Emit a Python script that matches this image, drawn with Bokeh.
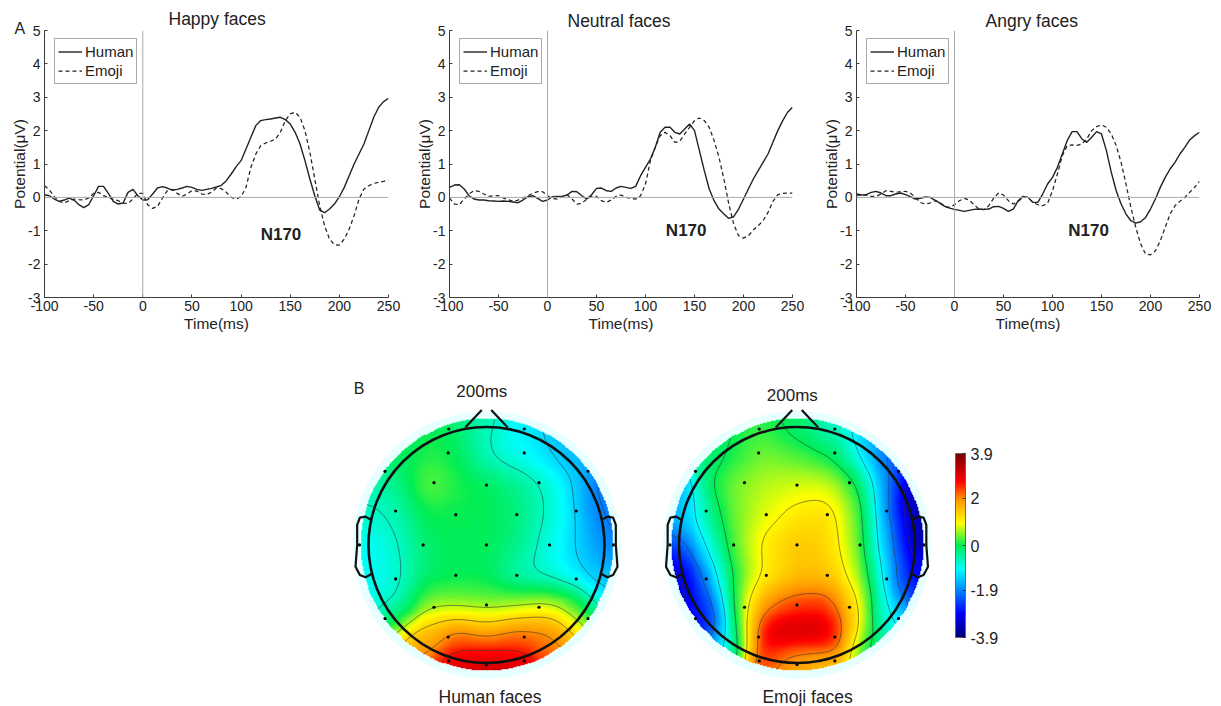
import numpy as np
from bokeh.embed import file_html
from bokeh.resources import INLINE
from bokeh.plotting import figure
from bokeh.layouts import row, column
from bokeh.models import (ColorBar, FixedTicker, Label, Legend, LegendItem,
                          LinearColorMapper, Range1d, Span, Spacer, Title)

# ------------------------------------------------------------------ data
times_ms = list(range(-100, 255, 5))
x_ticks = [-100, -50, 0, 50, 100, 150, 200, 250]
y_ticks = [-3, -2, -1, 0, 1, 2, 3, 4, 5]

happy_human = [0.08,0.05,-0.05,-0.12,-0.08,-0.02,-0.08,-0.22,-0.31,-0.22,0.05,0.33,0.33,0.12,-0.12,-0.2,-0.17,0.15,0.24,0.05,-0.08,-0.07,0.1,0.28,0.32,0.28,0.22,0.24,0.28,0.33,0.3,0.24,0.21,0.24,0.27,0.31,0.36,0.5,0.7,0.92,1.1,1.45,1.8,2.15,2.3,2.33,2.35,2.38,2.4,2.33,2.2,1.95,1.6,1.1,0.55,0.05,-0.38,-0.46,-0.35,-0.2,0.02,0.3,0.65,1.0,1.3,1.6,2.0,2.4,2.7,2.87,2.97]
happy_emoji = [0.35,0.22,0.02,-0.12,-0.17,-0.1,-0.05,-0.07,-0.08,-0.02,0.12,0.15,0.05,0.0,-0.06,-0.1,-0.17,-0.18,-0.05,0.12,0.12,-0.22,-0.33,-0.27,-0.02,0.2,0.24,0.12,0.03,0.1,0.2,0.19,0.1,0.08,0.16,0.28,0.26,0.15,0.0,-0.05,0.02,0.3,0.9,1.3,1.55,1.63,1.68,1.75,1.95,2.3,2.5,2.55,2.4,2.0,1.35,0.55,-0.25,-0.85,-1.25,-1.42,-1.43,-1.25,-0.95,-0.55,-0.05,0.25,0.35,0.42,0.45,0.48,0.52]
neutral_human = [0.3,0.37,0.38,0.25,0.05,-0.05,-0.08,-0.08,-0.1,-0.11,-0.12,-0.11,-0.12,-0.14,-0.16,-0.08,0.02,0.05,-0.03,-0.12,-0.08,0.02,0.03,0.03,0.07,0.18,0.17,0.05,-0.05,0.08,0.27,0.28,0.2,0.18,0.28,0.33,0.3,0.27,0.33,0.65,0.9,1.15,1.5,1.95,2.1,2.1,1.95,1.9,2.05,2.2,2.0,1.4,0.8,0.25,-0.1,-0.35,-0.5,-0.63,-0.58,-0.35,-0.05,0.25,0.55,0.8,1.05,1.3,1.65,2.0,2.3,2.55,2.7]
neutral_emoji = [-0.02,-0.2,-0.22,-0.05,0.1,0.2,0.18,0.1,0.03,0.05,0.05,-0.02,-0.07,-0.12,-0.08,-0.02,0.05,0.12,0.17,0.17,0.05,-0.03,-0.05,0.02,0.08,-0.05,-0.2,-0.18,-0.05,0.03,0.03,-0.1,-0.15,-0.08,0.03,0.07,0.0,-0.03,-0.05,0.05,0.4,1.1,1.5,1.85,1.95,1.85,1.65,1.68,1.9,2.1,2.3,2.38,2.3,2.1,1.7,1.2,0.55,-0.2,-0.8,-1.15,-1.22,-1.15,-0.98,-0.85,-0.7,-0.45,-0.12,0.08,0.12,0.13,0.13]
angry_human = [0.1,0.07,0.08,0.15,0.18,0.13,0.05,0.05,0.1,0.13,0.08,0.02,-0.05,-0.03,0.01,0.0,-0.08,-0.17,-0.27,-0.32,-0.36,-0.39,-0.42,-0.39,-0.36,-0.35,-0.36,-0.35,-0.28,-0.27,-0.33,-0.42,-0.35,-0.1,0.03,0.0,-0.15,-0.15,0.1,0.4,0.6,0.9,1.3,1.7,1.97,1.97,1.75,1.65,1.8,1.97,1.9,1.4,0.75,0.2,-0.2,-0.5,-0.7,-0.77,-0.73,-0.6,-0.35,-0.05,0.3,0.6,0.85,1.05,1.3,1.5,1.72,1.85,1.95]
angry_emoji = [0.07,0.07,0.07,0.03,0.03,0.1,0.2,0.18,0.15,0.17,0.18,0.13,0.0,-0.15,-0.2,-0.17,-0.1,-0.15,-0.27,-0.3,-0.22,-0.1,-0.03,-0.08,-0.22,-0.35,-0.37,-0.25,-0.02,0.13,0.07,-0.1,-0.2,-0.12,0.0,0.0,-0.15,-0.22,-0.25,-0.18,0.2,0.7,1.25,1.55,1.57,1.56,1.6,1.75,2.0,2.12,2.17,2.1,1.9,1.55,1.05,0.4,-0.3,-0.9,-1.4,-1.7,-1.72,-1.6,-1.3,-0.9,-0.5,-0.25,-0.12,0.0,0.15,0.3,0.48]

# electrode positions in head radii
elec_x = [-0.32,0.32,-0.325,0.32,-0.86,0.86,-0.445,0.0,0.445,-0.77,-0.26,0.257,0.76,-1.076,-0.537,0.0,0.534,1.076,-0.77,-0.26,0.257,0.76,-0.86,-0.445,0.0,0.445,0.86,-0.325,0.32,-0.32,0.0,0.32]
elec_y = [0.983,0.983,0.78,0.78,0.624,0.624,0.528,0.508,0.528,0.288,0.257,0.257,0.288,0.0,0.0,0.0,0.0,0.0,-0.288,-0.257,-0.257,-0.288,-0.624,-0.528,-0.508,-0.528,-0.624,-0.78,-0.78,-0.983,-1.014,-0.983]

# potentials on a coarse lattice (head radii); None = outside the head
lattice_x = [-1.0,-0.75,-0.5,-0.25,0.0,0.25,0.5,0.75,1.0]
lattice_y = [1.0,0.75,0.5,0.25,0.0,-0.25,-0.5,-0.75,-1.0]
N = None
human_rows = [
    [N,N,N,-0.1,-0.7,-1.2,N,N,N],
    [N,-0.1,0.2,0.0,-0.65,-0.9,-1.15,-1.6,N],
    [-0.6,-0.3,0.45,0.1,0.0,-0.3,-0.65,-1.3,-2.3],
    [-0.9,-0.55,0.05,0.0,0.0,-0.2,-0.65,-1.2,-2.1],
    [-1.0,-0.7,-0.1,0.0,0.0,-0.25,-0.8,-1.3,-1.9],
    [-1.0,-0.75,-0.15,-0.05,-0.05,-0.6,-0.85,-1.2,-1.7],
    [-1.0,-0.7,0.55,0.45,0.4,0.5,0.75,0.4,-1.2],
    [N,0.75,1.5,2.2,1.7,2.2,2.1,1.3,N],
    [N,N,N,3.0,2.9,3.0,N,N,N],
]
emoji_rows = [
    [N,N,N,0.15,-0.2,-0.8,N,N,N],
    [N,-0.3,0.25,0.45,0.3,0.05,-0.6,-2.4,N],
    [-1.8,0.1,0.5,0.7,0.8,0.85,0.2,-1.7,-3.6],
    [-1.4,-0.3,0.5,0.85,1.15,1.3,0.5,-1.6,-3.5],
    [-2.5,-0.8,0.5,1.2,1.5,1.35,0.55,-1.5,-3.6],
    [-3.2,-1.4,0.3,1.1,1.5,1.5,0.75,-1.1,-3.0],
    [-3.3,-2.2,0.5,2.0,2.4,2.5,1.2,-0.8,-2.4],
    [N,-3.0,0.4,3.3,3.3,3.3,1.6,-0.6,N],
    [N,N,N,2.4,1.9,1.4,N,N,N],
]
rim_x = [1.02,0.63,0.0,-0.63,-1.02,-1.02,-0.63,0.0,0.63,1.02,0.86,-0.86]
rim_y = [0.33,0.87,1.07,0.87,0.33,-0.33,-0.87,-1.07,-0.87,-0.33,-0.64,-0.64]
human_rim = [-1.9,-1.5,-0.4,-0.1,-0.5,-0.9,2.3,3.3,2.3,-1.3,0.2,-0.4]
emoji_rim = [-3.6,-1.6,0.0,-0.1,-1.6,-3.2,-0.7,1.5,-0.5,-3.0,-1.2,-3.0]

human_levels = [-1.95, -1.3, -0.65, 0.65, 1.3, 1.95, 2.6]
emoji_levels = [-3.0, -2.0, -1.0, 0.0, 1.0, 2.1]
cbar_ticks = [-3.9, -1.9, 0, 2, 3.9]

nose_x = [-0.18, -0.04]
nose_y = [0.995, 1.145]
ear_x = [-0.975,-1.025,-1.073,-1.096,-1.096,-1.11,-1.073,-1.025,-0.975]
ear_y = [0.212,0.24,0.232,0.17,0.0,-0.184,-0.254,-0.274,-0.246]

# ------------------------------------------------------------------ style
FONT = "Liberation Sans"
INK = "#222222"
AXIS = "#3c3c3c"
anchors = [(0.0,(0,0,120)),(0.13,(0,0,255)),(0.37,(0,255,255)),(0.5,(0,238,85)),
           (0.62,(255,255,0)),(0.75,(255,150,0)),(0.85,(255,0,0)),(1.0,(120,0,0))]
pos = np.linspace(0, 1, 256)
chan = [np.interp(pos, [a[0] for a in anchors], [a[1][i] for a in anchors]) for i in range(3)]
jet = ["#%02x%02x%02x" % (int(r), int(g), int(b)) for r, g, b in zip(*chan)]
mapper = LinearColorMapper(palette=jet, low=-3.9, high=3.9, nan_color="rgba(0,0,0,0)")


def erp(title, human, emoji, width, left, right, n_x, n_y, title_off, letter=None):
    p = figure(width=width, height=340, output_backend="svg", toolbar_location=None,
               x_range=Range1d(-100, 250), y_range=Range1d(-3, 5),
               min_border_left=left, min_border_right=right, min_border_top=30, min_border_bottom=43)
    p.grid.visible = False
    p.outline_line_color = None
    for ax in (p.xaxis[0], p.yaxis[0]):
        ax.axis_line_color = AXIS
        ax.major_tick_line_color = AXIS
        ax.minor_tick_line_color = None
        ax.major_tick_in = 3
        ax.major_tick_out = 0
        ax.major_label_text_font = FONT
        ax.major_label_text_font_size = "14px"
        ax.major_label_text_color = INK
        ax.axis_label_text_font = FONT
        ax.axis_label_text_font_size = "15.5px"
        ax.axis_label_text_font_style = "normal"
        ax.axis_label_text_color = INK
    p.xaxis[0].ticker = FixedTicker(ticks=x_ticks)
    p.yaxis[0].ticker = FixedTicker(ticks=y_ticks)
    p.xaxis[0].major_label_overrides = {t: str(t) for t in x_ticks}
    p.yaxis[0].major_label_overrides = {t: str(t) for t in y_ticks}
    p.xaxis[0].axis_label = "Time(ms)"
    p.yaxis[0].axis_label = "Potential(μV)"
    p.xaxis[0].major_label_standoff = 3
    p.xaxis[0].axis_label_standoff = 1
    p.yaxis[0].major_label_standoff = 4
    p.yaxis[0].axis_label_standoff = -3
    p.add_layout(Span(location=0, dimension="width", line_color="#aaaaaa", line_width=1))
    p.add_layout(Span(location=0, dimension="height", line_color="#aaaaaa", line_width=1))
    r1 = p.line(times_ms, human, line_color=INK, line_width=1.4)
    r2 = p.line(times_ms, emoji, line_color=INK, line_width=1.25, line_dash="4 3")
    leg = Legend(items=[LegendItem(label="Human", renderers=[r1]), LegendItem(label="Emoji", renderers=[r2])],
                 location=(10, 213), orientation="vertical", margin=0, padding=3, spacing=0,
                 glyph_width=24, glyph_height=19, label_height=19, label_standoff=3,
                 label_text_font=FONT, label_text_font_size="15px", label_text_color=INK,
                 border_line_color="#555555", border_line_width=1, background_fill_alpha=1)
    p.add_layout(leg)
    p.add_layout(Label(x=n_x, y=n_y, text="N170", text_font=FONT, text_font_size="17px",
                       text_font_style="bold", text_color=INK, text_align="center", text_baseline="middle"))
    if letter:
        p.add_layout(Title(text=letter, align="left", offset=-30, standoff=-12, text_font=FONT,
                           text_font_size="16px", text_font_style="normal", text_color=INK), "above")
    p.add_layout(Title(text=title, align="left", offset=title_off, standoff=-11 if letter else 0, text_font=FONT,
                       text_font_size="17.5px", text_font_style="normal", text_color=INK), "above")
    return p


def surface(rows, rim, gx, gy, sigma=0.135):
    px, py, pv = list(rim_x), list(rim_y), list(rim)
    for ly, r in zip(lattice_y, rows):
        for lx, v in zip(lattice_x, r):
            if v is not None:
                px.append(lx); py.append(ly); pv.append(v)
    px, py, pv = np.array(px), np.array(py), np.array(pv, float)
    X, Y = np.meshgrid(gx, gy)
    w = np.exp(-((X[..., None] - px)**2 + (Y[..., None] - py)**2) / (2 * sigma**2))
    return X, Y, (w @ pv) / w.sum(axis=-1)


def head(rows, rim, levels, width, x_start, x_end, caption, cap_x, top_x, top_y, letter=None):
    p = figure(width=width, height=366, output_backend="svg", toolbar_location=None,
               x_range=Range1d(x_start, x_end), y_range=Range1d(-1.369, 1.733),
               x_axis_type=None, y_axis_type=None, min_border=0)
    p.grid.visible = False
    p.outline_line_color = None
    gx = np.linspace(-1.07, 1.07, 268)
    gy = np.linspace(-1.07, 1.07, 268)
    X, Y, Z = surface(rows, rim, gx, gy)
    Z = np.clip(Z, -3.9, 3.9)
    Z = np.where(np.hypot(X, Y) <= 1.07, Z, np.nan)
    p.circle([0], [0], radius=1.135, fill_color="#e8ffff", line_color=None)
    p.image(image=[Z], x=-1.07, y=-1.07, dw=2.14, dh=2.14, color_mapper=mapper)
    p.contour(gx, gy, Z, levels=levels, line_color="#333333", line_width=0.7, line_alpha=0.85, fill_color=None)
    p.scatter(elec_x, elec_y, size=3.2, marker="circle", fill_color="black", line_color=None)
    p.circle([0], [0], radius=1.0, fill_color=None, line_color="#111111", line_width=2.6)
    p.line(nose_x, nose_y, line_color="#111111", line_width=2.2)
    p.line([-v for v in nose_x], nose_y, line_color="#111111", line_width=2.2)
    p.line(ear_x, ear_y, line_color="#111111", line_width=2.2)
    p.line([-v for v in ear_x], ear_y, line_color="#111111", line_width=2.2)
    p.add_layout(Label(x=top_x, y=top_y, text="200ms", text_font=FONT, text_font_size="17px",
                       text_color=INK, text_align="center", text_baseline="middle"))
    p.add_layout(Label(x=cap_x, y=-1.29, text=caption, text_font=FONT, text_font_size="17.5px",
                       text_color=INK, text_align="center", text_baseline="middle"))
    if letter:
        p.add_layout(Label(x=-1.08, y=1.33, text=letter, text_font=FONT, text_font_size="16px",
                           text_color=INK, text_align="center", text_baseline="middle"))
    return p


p1 = erp("Happy faces", happy_human, happy_emoji, 405, 44, 17, 140.6, -1.12, 124, "A")
p2 = erp("Neutral faces", neutral_human, neutral_emoji, 406, 44, 19, 141.5, -0.98, 118)
p3 = erp("Angry faces", angry_human, angry_emoji, 409, 45, 21, 136.8, -0.98, 129)

h1 = head(human_rows, human_rim, human_levels, 290, -146/118, 144/118, "Human faces", 0.03, -0.04, 1.30, "B")
h2 = head(emoji_rows, emoji_rim, emoji_levels, 290, -146.5/118, 143.5/118, "Emoji faces", 0.09, -0.04, 1.27)

cb = figure(width=75, height=366, output_backend="svg", toolbar_location=None,
            x_range=Range1d(0, 1), y_range=Range1d(0, 1), x_axis_type=None, y_axis_type=None, min_border=0)
cb.grid.visible = False
cb.outline_line_color = None
bar = ColorBar(color_mapper=mapper, ticker=FixedTicker(ticks=cbar_ticks), width=10, height=184,
               location=(15, 69), padding=0, margin=0, bar_line_color="#666666",
               major_tick_line_color="#333333", major_tick_in=3, major_tick_out=0, minor_tick_line_color=None,
               major_label_overrides={t: str(t) for t in cbar_ticks},
               label_standoff=5, major_label_text_font=FONT, major_label_text_font_size="16px",
               major_label_text_color=INK, background_fill_alpha=0, border_line_color=None)
cb.add_layout(bar)

root = column(row(p1, p2, p3),
              row(Spacer(width=340, height=366), h1, Spacer(width=20, height=366), h2, cb))
open("out.html", "w").write(file_html(root, INLINE))
